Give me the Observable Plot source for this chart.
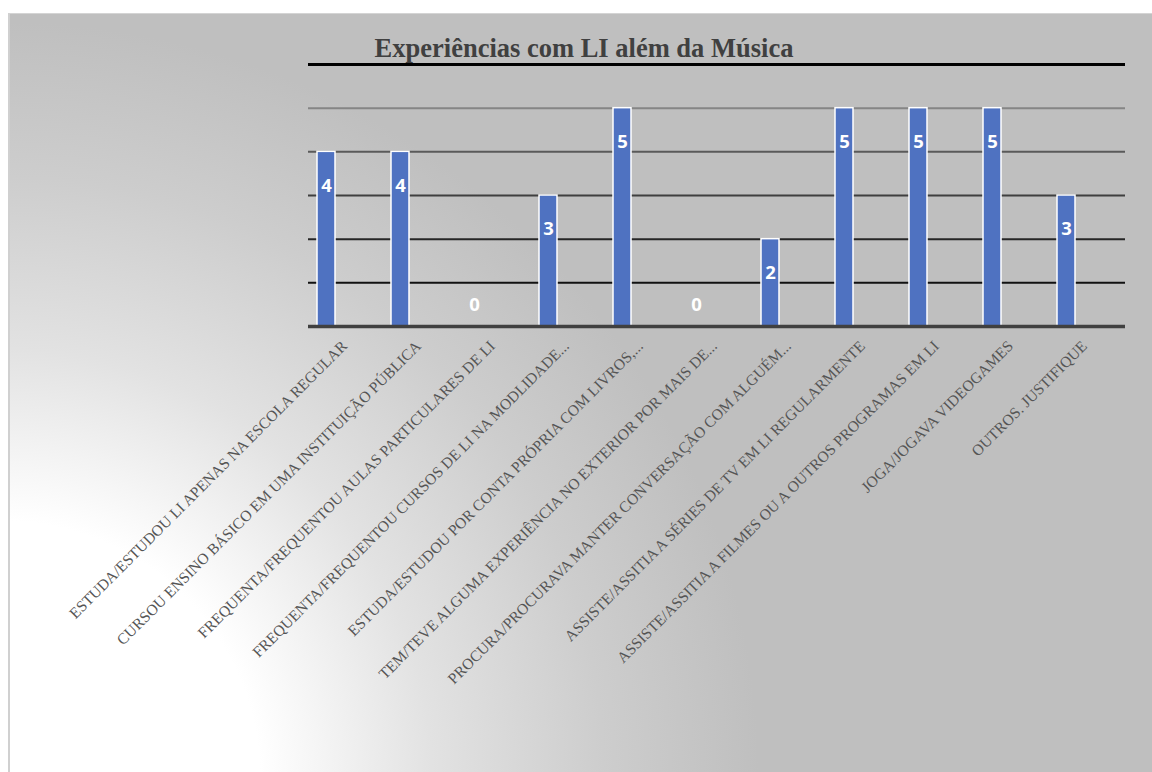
<!DOCTYPE html>
<html>
<head>
<meta charset="utf-8">
<script src="https://cdn.jsdelivr.net/npm/d3@7"></script>
<script src="https://cdn.jsdelivr.net/npm/@observablehq/plot@0.6"></script>
<style>
  html, body { margin: 0; padding: 0; background: #ffffff; }
  #wrap { position: relative; width: 1152px; height: 772px; overflow: hidden; background: #ffffff; }
  #bg { position: absolute; left: 8px; top: 13px; width: 1144px; height: 759px;
        border-left: 2px solid #d0d0d0; border-top: 1px solid #d4d4d4; box-sizing: border-box;
        background: radial-gradient(circle 860px at -8px 765px, #ffffff 0%, #ffffff 30%, #e2e2e2 50%, #cdcdcd 70%, #bfbfbf 88%), #bfbfbf; }
  #title { position: absolute; left: 0; width: 1168px; top: 33px; text-align: center;
           font-family: "Liberation Serif", "DejaVu Serif", serif; font-weight: bold; font-size: 26.5px; color: #404040; }
  #chart { position: absolute; left: 0; top: 0; }
</style>
</head>
<body>
<div id="wrap">
  <div id="bg"></div>
  <div id="chart"></div>
  <div id="title">Experiências com LI além da Música</div>
</div>
<script>
const categories = [
  "ESTUDA/ESTUDOU LI APENAS NA ESCOLA REGULAR",
  "CURSOU ENSINO BÁSICO EM UMA INSTITUIÇÃO PÚBLICA",
  "FREQUENTA/FREQUENTOU AULAS PARTICULARES DE LI",
  "FREQUENTA/FREQUENTOU CURSOS DE LI NA MODLIDADE...",
  "ESTUDA/ESTUDOU POR CONTA PRÓPRIA COM LIVROS,...",
  "TEM/TEVE ALGUMA EXPERIÊNCIA NO EXTERIOR POR MAIS DE...",
  "PROCURA/PROCURAVA MANTER CONVERSAÇÃO COM ALGUÉM...",
  "ASSISTE/ASSITIA A SÉRIES DE TV EM LI REGULARMENTE",
  "ASSISTE/ASSITIA A FILMES OU A OUTROS PROGRAMAS EM LI",
  "JOGA/JOGAVA VIDEOGAMES",
  "OUTROS. JUSTIFIQUE"
];
const values = [4, 4, 0, 3, 5, 0, 2, 5, 5, 5, 3];
const gridValues = [1, 2, 3, 4, 5];
const topValue = 6;

const gridStroke = {1: "#111111", 2: "#262626", 3: "#3f3f3f", 4: "#5a5a5a", 5: "#858585"};

const data = categories.map((c, i) => ({cat: c, value: values[i]}));

const W = 1152, H = 772;
const plotLeft = 308, plotRight = 1125, plotTop = 64, plotBottom = 326;

const chart = Plot.plot({
  width: W,
  height: H,
  marginLeft: plotLeft,
  marginRight: W - plotRight,
  marginTop: plotTop,
  marginBottom: H - plotBottom,
  style: {background: "transparent", overflow: "visible"},
  x: {domain: categories, range: [316, 1075], paddingInner: 0.76, paddingOuter: 0, axis: null},
  y: {domain: [0, 6], axis: null},
  marks: [
    Plot.ruleY(gridValues, {y: d => d, stroke: d => gridStroke[d], strokeWidth: 2}),
    Plot.ruleY([topValue], {stroke: "#000000", strokeWidth: 3}),
    Plot.barY(data, {x: "cat", y: "value", fill: "#4f72c1", stroke: "#ffffff", strokeWidth: 1.5}),
    Plot.ruleY([0], {stroke: "#404040", strokeWidth: 3.5}),
    Plot.text(data.filter(d => d.value > 0), {x: "cat", y: "value", text: d => String(d.value), dy: 34,
      fill: "#ffffff", fontSize: 18.5, fontWeight: "bold", fontFamily: "Open Sans, Liberation Sans, sans-serif"}),
    Plot.text(data.filter(d => d.value === 0), {x: "cat", y: "value", text: d => String(d.value), dy: -21,
      fill: "#ffffff", fontSize: 18.5, fontWeight: "bold", fontFamily: "Open Sans, Liberation Sans, sans-serif"}),
    Plot.text(data, {x: "cat", y: () => 0, text: "cat", rotate: -45, textAnchor: "end", dx: 18, dy: 17,
      fill: "#555555", fontSize: 15.5, fontFamily: "Liberation Serif, DejaVu Serif, serif"})
  ]
});
document.getElementById("chart").appendChild(chart);
</script>
</body>
</html>
